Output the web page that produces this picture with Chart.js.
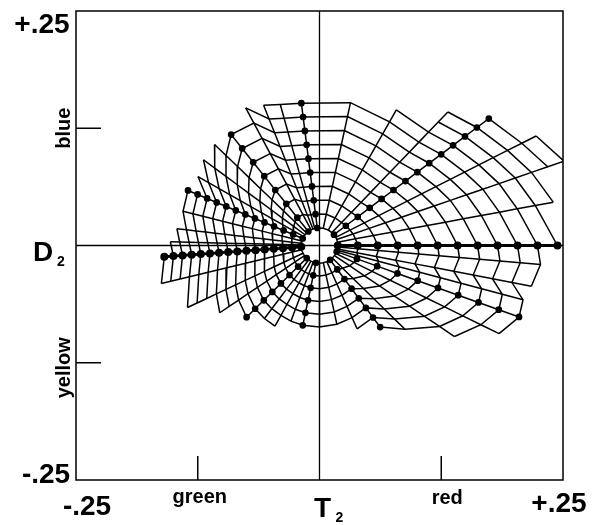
<!DOCTYPE html>
<html>
<head>
<meta charset="utf-8">
<script src="https://cdn.jsdelivr.net/npm/chart.js@4.4.1/dist/chart.umd.min.js"></script>
<style>
  body { margin: 0; background: #fff; }
  canvas { display: block; }
</style>
</head>
<body>
<canvas id="myChart" width="597" height="525"></canvas>
<script>
// hue spokes, counter-clockwise from the red end of T2 (degrees)
const hueAngle = [0, 10.9, 19.7, 27.7, 37.9, 47.2, 61.4, 78.2, 97, 105,
                  111, 117.3, 127.5, 135, 142.5, 149.5, 156.5, 165.4, 173, 178.5,
                  184.3, 194, 206, 215, 225.6, 234, 242, 250, 258.6, 270,
                  282, 293.5, 305.6, 314.5, 325, 333, 339.6, 344.5, 348.7, 354.9];
// distance between two chroma contours along each spoke
const chromaStep = [0.0205, 0.0188, 0.0177, 0.0166, 0.0155, 0.0146, 0.0146, 0.0152, 0.0149, 0.0152,
                    0.0157, 0.0183, 0.0186, 0.0167, 0.0146, 0.0126, 0.0107, 0.0105, 0.0099, 0.0096,
                    0.0094, 0.0099, 0.0110, 0.0118, 0.0126, 0.0129, 0.0131, 0.0134, 0.0136, 0.0136,
                    0.0134, 0.0130, 0.0126, 0.0152, 0.0188, 0.0209, 0.0222, 0.0220, 0.0203, 0.0209];
// number of chroma contours each spoke reaches
const maxChroma = [12, 13, 15, 15, 14, 13, 11, 10, 10, 10,
                   10, 9, 8, 9, 10, 11, 13, 13, 14, 15,
                   16, 16, 13, 10, 8, 7, 7, 6, 6, 6,
                   6, 7, 8, 8, 9, 10, 10, 10, 11, 11];
const principalHue = [0, 4, 8, 12, 16, 20, 24, 28, 32, 36];
const innerRadius = 0.0188;

const tickValues = [-0.25, -0.125, 0, 0.125, 0.25];
const xTickLabels = ['-.25', 'green', 'T₂', 'red', '+.25'];
const yTickLabels = ['-.25', 'yellow', 'D₂', 'blue', '+.25'];

function spokePoint(i, k) {
    const r = innerRadius + (k - 1) * chromaStep[i];
    const a = hueAngle[i] * Math.PI / 180;
    return {x: r * Math.cos(a), y: r * Math.sin(a)};
}

const datasets = [];

// T2 and D2 axes through the origin
datasets.push({data: [{x: -0.25, y: 0}, {x: 0.25, y: 0}], borderWidth: 1.3});
datasets.push({data: [{x: 0, y: -0.25}, {x: 0, y: 0.25}], borderWidth: 1.3});

// chroma contours
const topChroma = Math.max(...maxChroma);
for (let k = 1; k <= topChroma; k++) {
    const pts = [];
    for (let j = 0; j <= hueAngle.length; j++) {
        const i = j % hueAngle.length;
        if (maxChroma[i] >= k) pts.push(spokePoint(i, k));
        else pts.push({x: null, y: null});
    }
    datasets.push({data: pts, borderWidth: 1.5});
}

// hue spokes
hueAngle.forEach((a, i) => {
    const pts = [];
    for (let k = 1; k <= maxChroma[i]; k++) pts.push(spokePoint(i, k));
    const main = principalHue.includes(i);
    datasets.push({
        data: pts,
        borderWidth: (i === 0 || i === 20) ? 2.8 : 1.5,
        pointRadius: main ? 2.6 : 0,
    });
});

datasets.forEach(d => {
    d.borderColor = '#000';
    d.backgroundColor = '#000';
    d.pointBackgroundColor = '#000';
    d.pointBorderColor = '#000';
});

const labelPlugin = {
    id: 'labels',
    afterDraw(chart) {
        const ctx = chart.ctx;
        const area = chart.chartArea;
        const xs = chart.scales.x;
        const ys = chart.scales.y;
        ctx.save();
        ctx.strokeStyle = '#000';
        ctx.fillStyle = '#000';
        ctx.lineWidth = 1.5;
        ctx.strokeRect(area.left, area.top, area.right - area.left, area.bottom - area.top);

        // inner ticks at the colour names
        ctx.beginPath();
        [-0.125, 0.125].forEach(v => {
            const px = xs.getPixelForValue(v);
            ctx.moveTo(px, area.bottom);
            ctx.lineTo(px, area.bottom - 24);
            const py = ys.getPixelForValue(v);
            ctx.moveTo(area.left, py);
            ctx.lineTo(area.left + 25, py);
        });
        ctx.stroke();

        ctx.textAlign = 'center';
        ctx.textBaseline = 'alphabetic';
        const big = 'bold 28px "Liberation Sans", Arial, sans-serif';
        const small = 'bold 20px "Liberation Sans", Arial, sans-serif';
        const sub = 'bold 14px "Liberation Sans", Arial, sans-serif';

        // x axis
        ctx.font = big;
        ctx.fillText(xTickLabels[0], xs.getPixelForValue(-0.25) + 11, area.bottom + 35);
        ctx.fillText(xTickLabels[4], xs.getPixelForValue(0.25) - 4, area.bottom + 32);
        ctx.fillText(xTickLabels[2].charAt(0), xs.getPixelForValue(0) + 3, area.bottom + 37);
        ctx.font = sub;
        ctx.fillText('2', xs.getPixelForValue(0) + 20, area.bottom + 42);
        ctx.font = small;
        ctx.fillText(xTickLabels[1], xs.getPixelForValue(-0.125) + 2, area.bottom + 23);
        ctx.fillText(xTickLabels[3], xs.getPixelForValue(0.125) + 6, area.bottom + 24);

        // y axis
        ctx.font = big;
        ctx.fillText(yTickLabels[4], area.left - 34, ys.getPixelForValue(0.25) + 22);
        ctx.fillText(yTickLabels[0], area.left - 30, ys.getPixelForValue(-0.25) + 3);
        ctx.fillText(yTickLabels[2].charAt(0), area.left - 33, ys.getPixelForValue(0) + 15);
        ctx.font = sub;
        ctx.fillText('2', area.left - 15, ys.getPixelForValue(0) + 20);
        ctx.font = small;
        [[yTickLabels[3], 0.125], [yTickLabels[1], -0.125]].forEach(([t, v]) => {
            ctx.save();
            ctx.translate(area.left - 6, ys.getPixelForValue(v) + (v < 0 ? 5 : 0));
            ctx.rotate(-Math.PI / 2);
            ctx.fillText(t, 0, 0);
            ctx.restore();
        });
        ctx.restore();
    }
};

const chart = new Chart(document.getElementById('myChart').getContext('2d'), {
    type: 'scatter',
    data: {datasets: datasets},
    options: {
        responsive: false,
        animation: false,
        devicePixelRatio: 1,
        layout: {padding: {left: 76, right: 34, top: 11, bottom: 45}},
        datasets: {
            scatter: {
                showLine: true,
                pointRadius: 0,
                pointHoverRadius: 0,
                spanGaps: false,
                tension: 0
            }
        },
        plugins: {legend: {display: false}, tooltip: {enabled: false}, colors: {enabled: false}},
        scales: {
            x: {type: 'linear', min: tickValues[0], max: tickValues[4], display: false},
            y: {type: 'linear', min: tickValues[0], max: tickValues[4], display: false}
        }
    },
    plugins: [labelPlugin]
});
</script>
</body>
</html>
